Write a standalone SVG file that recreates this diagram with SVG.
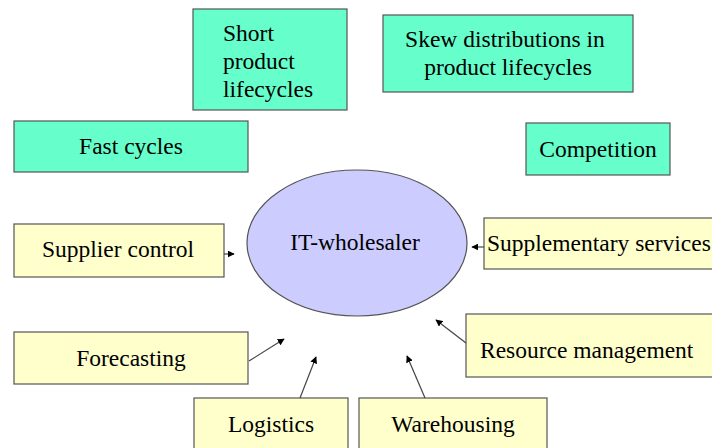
<svg xmlns="http://www.w3.org/2000/svg" width="712" height="448" viewBox="0 0 712 448" font-family="Liberation Serif, DejaVu Serif, serif">
  <defs>
    <marker id="arrow" viewBox="0 0 10 10" refX="9" refY="5" markerWidth="7" markerHeight="7" markerUnits="userSpaceOnUse" orient="auto">
      <path d="M0,0 L10,5 L0,10 z" fill="#000"/>
    </marker>
    <style>
      .factor { fill: #66FFCC; stroke: #555; stroke-width: 1.2; }
      .task { fill: #FFFFCC; stroke: #555; stroke-width: 1.2; }
      .hub { fill: #CCCCFF; stroke: #555; stroke-width: 1.2; }
      text { font-family: 'Liberation Serif', 'DejaVu Serif', serif; font-size: 23.5px; fill: #000; }
      .c { text-anchor: middle; }
      .conn line { stroke: #444; stroke-width: 1.2; marker-end: url(#arrow); }
    </style>
  </defs>
  <rect width="712" height="448" fill="#fff"/>

  <!-- external factors -->
  <g id="short-lifecycles">
    <rect class="factor" x="193" y="9" width="154" height="101"/>
    <text x="223" y="41">Short</text>
    <text x="223" y="69">product</text>
    <text x="223" y="97">lifecycles</text>
  </g>
  <g id="skew-distributions">
    <rect class="factor" x="383" y="15" width="250" height="77"/>
    <text class="c" x="505" y="47">Skew distributions in</text>
    <text class="c" x="508" y="75">product lifecycles</text>
  </g>
  <g id="fast-cycles">
    <rect class="factor" x="14" y="121" width="234" height="51"/>
    <text class="c" x="131" y="154">Fast cycles</text>
  </g>
  <g id="competition">
    <rect class="factor" x="526" y="123" width="144" height="52"/>
    <text class="c" x="598" y="157">Competition</text>
  </g>

  <!-- central actor -->
  <g id="it-wholesaler">
    <ellipse class="hub" cx="357" cy="243" rx="110" ry="73"/>
    <text class="c" x="355" y="250">IT-wholesaler</text>
  </g>

  <!-- activities -->
  <g id="supplier-control">
    <rect class="task" x="14" y="224" width="210" height="53"/>
    <text class="c" x="118" y="257">Supplier control</text>
  </g>
  <g id="supplementary-services">
    <rect class="task" x="484" y="218" width="240" height="51"/>
    <text x="487" y="251">Supplementary services</text>
  </g>
  <g id="forecasting">
    <rect class="task" x="14" y="332" width="234" height="52"/>
    <text class="c" x="131" y="366">Forecasting</text>
  </g>
  <g id="resource-management">
    <rect class="task" x="466" y="314" width="260" height="63"/>
    <text x="480" y="358">Resource management</text>
  </g>
  <g id="logistics">
    <rect class="task" x="194" y="398" width="154" height="60"/>
    <text class="c" x="271" y="432">Logistics</text>
  </g>
  <g id="warehousing">
    <rect class="task" x="359" y="398" width="188" height="60"/>
    <text class="c" x="453" y="432">Warehousing</text>
  </g>

  <!-- connectors -->
  <g class="conn" id="connectors">
    <line x1="224" y1="254" x2="234" y2="254"/>
    <line x1="484" y1="247" x2="472" y2="247"/>
    <line x1="249" y1="361" x2="284" y2="339"/>
    <line x1="300" y1="398" x2="316" y2="357"/>
    <line x1="425" y1="398" x2="407" y2="356"/>
    <line x1="466" y1="343" x2="436" y2="320"/>
  </g>
</svg>
